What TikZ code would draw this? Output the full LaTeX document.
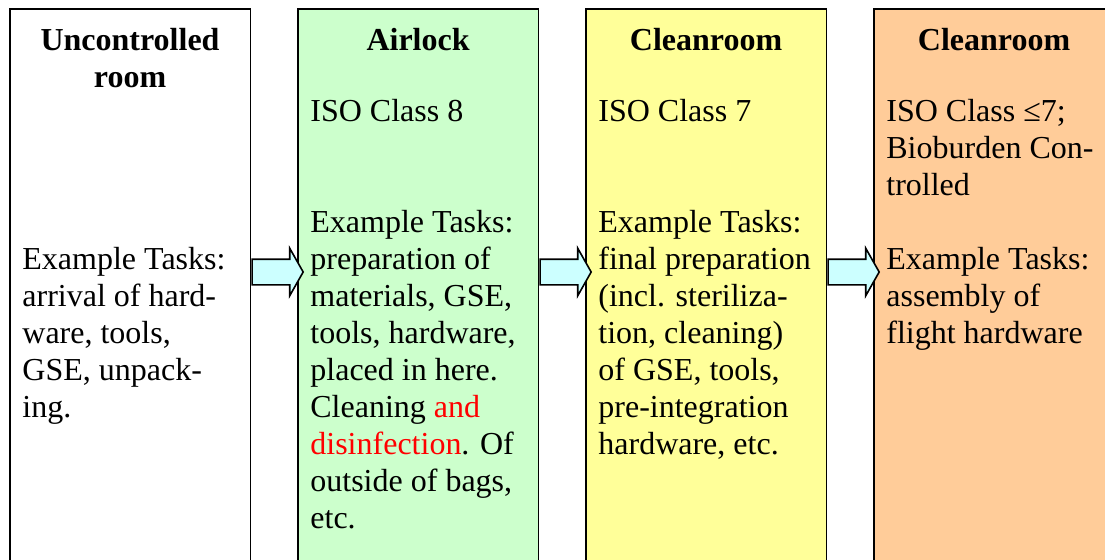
\documentclass[tikz,border=0pt]{standalone}
\usepackage{fontspec}
\setmainfont{Liberation Serif}
\usetikzlibrary{shapes,arrows,positioning,calc}
\definecolor{airlockcolor}{RGB}{204, 255, 204}
\definecolor{iso7color}{RGB}{255, 255, 153}
\definecolor{biocolor}{RGB}{255, 204, 153}
\definecolor{passcolor}{RGB}{204, 255, 255}
\definecolor{notecolor}{RGB}{255, 0, 0}

\begin{document}
\begin{tikzpicture}[x=0.5pt, y=-0.5pt,
                room/.style={rectangle, draw, line width=0.8pt, anchor=north west, inner sep=0pt, minimum width=120.25pt, minimum height=300pt},
                title/.style={anchor=north, inner sep=0pt, align=center, font=\fontsize{16}{18.5}\selectfont\bfseries},
                body/.style={anchor=north west, inner sep=0pt, align=left, font=\fontsize{16}{18.5}\selectfont},
                pass/.style={single arrow, draw, line width=0.8pt, fill=passcolor, inner xsep=0pt, inner ysep=6pt, minimum height=25.5pt, single arrow head extend=5.5pt, single arrow tip angle=121, single arrow head indent=0pt}]
                
                \clip (0,0) rectangle (1105,559);
                
                % Rooms
                \node[room, fill=white] (r1) at (9,8) {};
                \node[room, fill=airlockcolor] (r2) at (297,8) {};
                \node[room, fill=iso7color] (r3) at (585,8) {};
                \node[room, fill=biocolor] (r4) at (873,8) {};
                
                % Titles
                \node[title, below=8pt of r1.north] (t1) {\strut Uncontrolled\\room};
                \node[title, below=8pt of r2.north] (t2) {\strut Airlock};
                \node[title, below=8pt of r3.north] (t3) {\strut Cleanroom};
                \node[title, below=8pt of r4.north] (t4) {\strut Cleanroom};
                
                % Texts
                \node[body, below right=117.5pt and 6.5pt of r1.north west] (b1) {\strut Example Tasks:\\arrival of hard-\\ware, tools,\\GSE, unpack-\\ing.};
                \node[body, below right=43.5pt and 6.5pt of r2.north west] (b2) {\strut ISO Class 8\\[18.5pt]\strut\\Example Tasks:\\preparation of\\materials, GSE,\\tools, hardware,\\placed in here.\\Cleaning \textcolor{notecolor}{and}\\\textcolor{notecolor}{disinfection}. Of\\outside of bags,\\etc.};
                \node[body, below right=43.5pt and 6.5pt of r3.north west] (b3) {\strut ISO Class 7\\[18.5pt]\strut\\Example Tasks:\\final preparation\\(incl. steriliza-\\tion, cleaning)\\of GSE, tools,\\pre-integration\\hardware, etc.};
                \node[body, below right=43.5pt and 6.5pt of r4.north west] (b4) {\strut ISO Class ≤7;\\Bioburden Con-\\trolled\\[18.5pt]Example Tasks:\\assembly of\\flight hardware};
                
                % Passages
                \node[pass] (p1) at ($(r1.north east)!.5!(r2.north west) + (0,264)$) {};
                \node[pass] (p2) at ($(r2.north east)!.5!(r3.north west) + (0,264)$) {};
                \node[pass] (p3) at ($(r3.north east)!.5!(r4.north west) + (0,264)$) {};
                
            \end{tikzpicture}
\end{document}
